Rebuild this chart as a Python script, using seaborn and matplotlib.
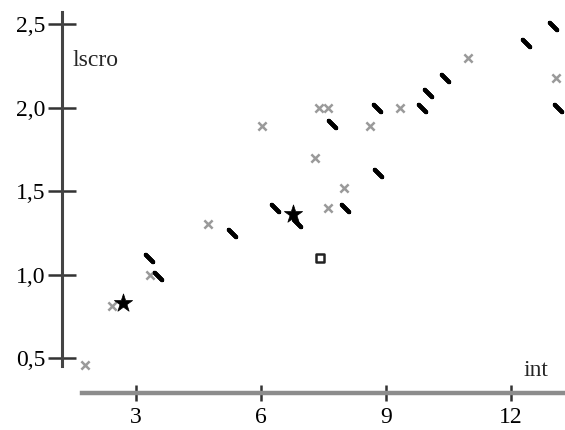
import numpy as np
import pandas as pd
import matplotlib
matplotlib.use("Agg")
import matplotlib.pyplot as plt
import matplotlib.ticker as mticker
import seaborn as sns

# ── DATA ──────────────────────────────────────────────────────
cross_x = [1.77, 2.43, 3.33, 4.72, 6.02, 7.29, 7.40, 7.60, 7.60, 7.99, 8.61, 9.33, 10.96, 13.09]
cross_y = [0.46, 0.81, 1.00, 1.30, 1.89, 1.70, 2.00, 2.00, 1.40, 1.52, 1.89, 2.00, 2.30, 2.18]

dash_x = [3.31, 3.53, 5.30, 6.33, 6.86, 7.70, 8.01, 8.78, 8.80, 9.86, 10.00, 10.41, 12.37, 13.00, 13.12]
dash_y = [1.10, 0.99, 1.25, 1.40, 1.31, 1.90, 1.40, 2.00, 1.61, 2.00, 2.09, 2.18, 2.39, 2.49, 2.00]

star_x = [2.68, 6.76]
star_y = [0.83, 1.36]

square_x = [7.41]
square_y = [1.10]

x_ticks = [3, 6, 9, 12]
y_ticks = [0.5, 1.0, 1.5, 2.0, 2.5]

sns.set_style("white")
plt.rcParams["font.family"] = ["Liberation Serif", "DejaVu Serif"]

fig = plt.figure(figsize=(5.65, 4.3), dpi=100)
ax = fig.add_axes([0.1097, 0.086, 0.8903, 0.885])

sns.scatterplot(x=cross_x, y=cross_y, marker="x", s=35, color="#9a9a9a",
                linewidth=1.8, ax=ax, zorder=2)
sns.scatterplot(x=dash_x, y=dash_y, marker=(2, 2, 45), s=55, color="black",
                edgecolor="black", linewidth=3.0, ax=ax, zorder=3)
sns.scatterplot(x=square_x, y=square_y, marker="s", s=28, facecolor="white",
                edgecolor="#222222", linewidth=1.8, ax=ax, zorder=3)
sns.scatterplot(x=star_x, y=star_y, marker="*", s=190, color="black",
                edgecolor="black", linewidth=0.5, ax=ax, zorder=4)

ax.set_xlim(1.22, 13.3)
ax.set_ylim(0.29, 2.57)

# detached axes
for side in ["top", "right"]:
    ax.spines[side].set_visible(False)
ax.spines["left"].set_bounds(0.45, 2.57)
ax.spines["left"].set_color("#444444")
ax.spines["left"].set_linewidth(2.2)
ax.spines["bottom"].set_bounds(1.7, 13.3)
ax.spines["bottom"].set_color("#8c8c8c")
ax.spines["bottom"].set_linewidth(3.2)

ax.set_xticks(x_ticks)
ax.set_yticks(y_ticks)
ax.yaxis.set_major_formatter(mticker.FuncFormatter(lambda v, p: f"{v:.1f}".replace(".", ",")))
ax.tick_params(axis="both", direction="inout", length=16, width=1.8,
               colors="#333333", labelcolor="black", labelsize=17)
ax.tick_params(axis="x", length=12, pad=4, bottom=True)
ax.tick_params(axis="y", length=20, pad=2, left=True)

ax.set_xlabel("")
ax.set_ylabel("")
ax.text(1.48, 2.28, "lscro", fontsize=17, ha="left", va="center")
ax.text(12.9, 0.36, "int", fontsize=17, ha="right", va="bottom")

fig.savefig("out.png", dpi=100)
